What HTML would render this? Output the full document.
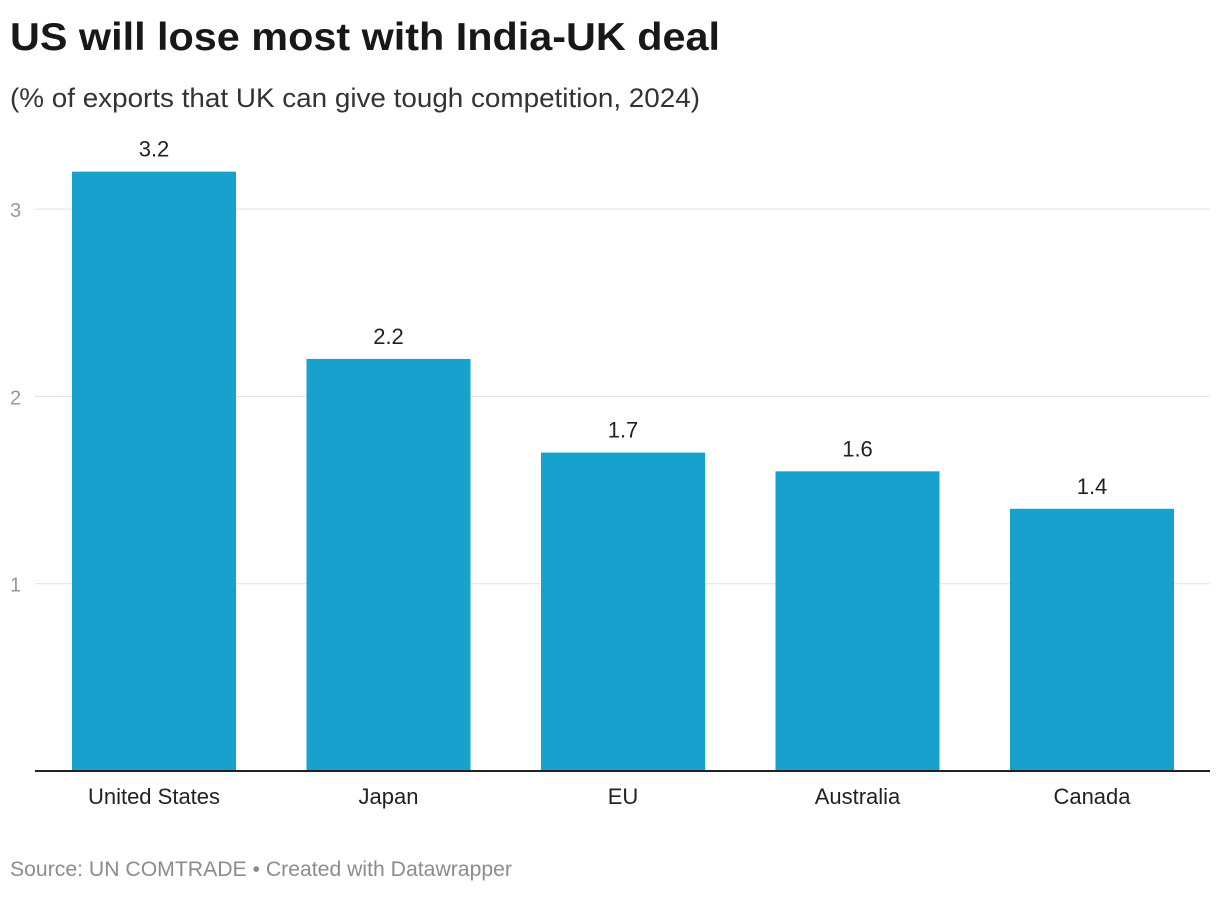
<!DOCTYPE html>
<html><head><meta charset="utf-8"><style>
body{margin:0;width:1220px;height:892px;background:#fff;font-family:"Liberation Sans",Arial,sans-serif;overflow:hidden}
</style></head><body>
<svg width="1220" height="892">
<text x="10" y="50" font-size="39" font-weight="bold" fill="#181818" textLength="710" lengthAdjust="spacingAndGlyphs">US will lose most with India-UK deal</text>
<text x="10" y="107" font-size="27" fill="#333" textLength="690" lengthAdjust="spacingAndGlyphs">(% of exports that UK can give tough competition, 2024)</text>
<g id="grid"></g><g id="bars"></g>
<text x="10" y="876" font-size="21" fill="#8c8c8c" textLength="502" lengthAdjust="spacingAndGlyphs">Source: UN COMTRADE • Created with Datawrapper</text>
</svg>
<script>
const categories=["United States","Japan","EU","Australia","Canada"];
const values=[3.2,2.2,1.7,1.6,1.4];
const ticks=[1,2,3];
const NS="http://www.w3.org/2000/svg";
const y0=771,unit=187.3,left=35,right=1210,x0=72,step=234.5,bw=164;
const y=v=>y0-v*unit, x=i=>x0+i*step;
function mk(t,a,p){const e=document.createElementNS(NS,t);for(const k in a)e.setAttribute(k,a[k]);p.appendChild(e);return e;}
const g=document.getElementById('grid'),b=document.getElementById('bars');
ticks.forEach(t=>{
 const l=mk('line',{x1:left,x2:right,y1:y(t),y2:y(t),stroke:'#e0e0e0','stroke-width':1},g);
 
 
 const tx=mk('text',{x:10,y:y(t)+8,'font-size':20,fill:'#999'},g);tx.textContent=t;
 
 
});
categories.forEach((c,i)=>{
 const r=mk('rect',{x:x(i),y:y(values[i]),width:bw,height:values[i]*unit,fill:'#19a1cd'},b);
 
 
 const v=mk('text',{x:x(i)+bw/2,y:y(values[i])-15,'font-size':22,fill:'#222','text-anchor':'middle'},b);v.textContent=values[i].toFixed(1);
 
 
 const l=mk('text',{x:x(i)+bw/2,y:804,'font-size':22,fill:'#222','text-anchor':'middle'},b);l.textContent=c;
 
 
});
const ax=mk('line',{x1:left,x2:right,y1:y0,y2:y0,stroke:'#222','stroke-width':2},b);


</script>
</body></html>
